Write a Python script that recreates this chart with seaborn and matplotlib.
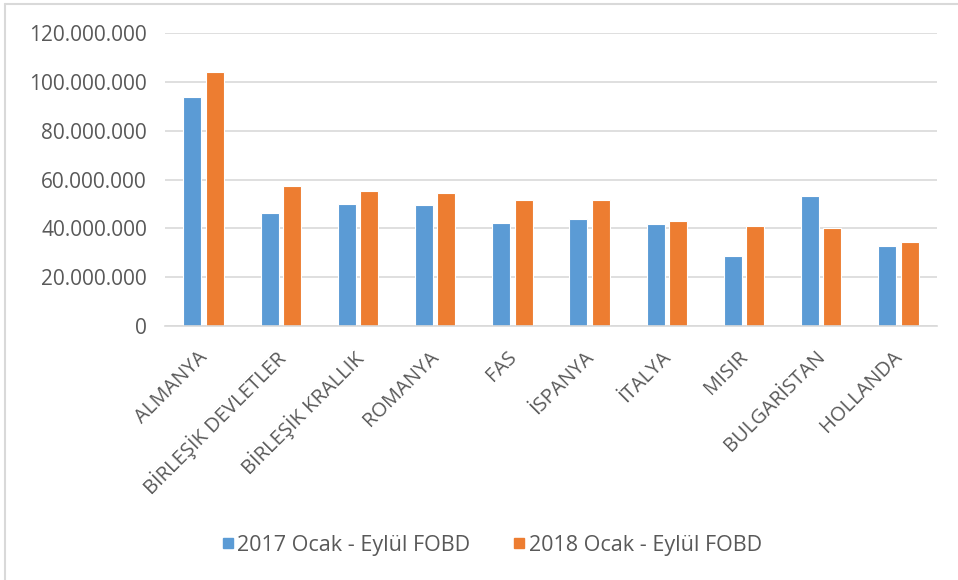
import matplotlib
matplotlib.use("Agg")
import matplotlib.pyplot as plt
import seaborn as sns
import pandas as pd
from matplotlib.ticker import FuncFormatter
from matplotlib.lines import Line2D
from matplotlib.transforms import ScaledTranslation

countries = ["ALMANYA", "BİRLEŞİK DEVLETLER", "BİRLEŞİK KRALLIK", "ROMANYA", "FAS",
             "İSPANYA", "İTALYA", "MISIR", "BULGARİSTAN", "HOLLANDA"]
values_2017 = [93600000, 46400000, 50000000, 49600000, 42300000,
               43700000, 41600000, 28500000, 53200000, 32700000]
values_2018 = [104000000, 57400000, 55400000, 54300000, 51700000,
               51700000, 43100000, 41000000, 40100000, 34300000]
series = ["2017 Ocak - Eylül FOBD", "2018 Ocak - Eylül FOBD"]
colors = ["#5B9BD5", "#ED7D31"]

df = pd.DataFrame({
    "country": countries * 2,
    "value": values_2017 + values_2018,
    "series": [series[0]] * len(countries) + [series[1]] * len(countries),
})

sns.set_style("white")
plt.rcParams["font.family"] = ["Open Sans", "DejaVu Sans"]
text_color = "#595959"
grid_color = "#D9D9D9"

fig = plt.figure(figsize=(9.58, 5.8), dpi=100)
ax = fig.add_axes([165 / 958, 1 - 326 / 580, (937 - 165) / 958, (326 - 33) / 580])

sns.barplot(data=df, x="country", y="value", hue="series", palette=colors,
            width=0.58, gap=0.2, edgecolor="white", linewidth=0.8,
            saturation=1, ax=ax, legend=False)

ax.set_ylim(0, 120000000)
ax.set_yticks(range(0, 120000001, 20000000))
ax.yaxis.set_major_formatter(FuncFormatter(lambda v, p: f"{int(v):,}".replace(",", ".")))
ax.grid(axis="y", color=grid_color, linewidth=1.2)
ax.set_axisbelow(True)
for s in ["left", "right", "top"]:
    ax.spines[s].set_visible(False)
ax.spines["bottom"].set_color(grid_color)
ax.spines["bottom"].set_linewidth(1.2)
ax.set_xlabel("")
ax.set_ylabel("")
ax.tick_params(axis="both", length=0, colors=text_color)
ax.tick_params(axis="y", labelsize=15, pad=13)
ax.tick_params(axis="x", labelsize=14.5, pad=8)
shift = ScaledTranslation(-6 / 100, -10 / 100, fig.dpi_scale_trans)
for lbl in ax.get_xticklabels():
    lbl.set_rotation(45)
    lbl.set_ha("right")
    lbl.set_rotation_mode("anchor")
    lbl.set_transform(lbl.get_transform() + shift)

handles = [Line2D([0], [0], marker="s", linestyle="none", markersize=7.5,
                  markerfacecolor=c, markeredgecolor=c) for c in colors]
leg = fig.legend(handles, series, loc="center", bbox_to_anchor=(492 / 958, 1 - 545 / 580),
                 ncol=2, frameon=False, fontsize=15.5, handletextpad=0.2,
                 columnspacing=2.0, handlelength=0.5)
for t in leg.get_texts():
    t.set_color(text_color)

fig.add_artist(Line2D([5 / 958, 1], [1 - 4 / 580, 1 - 4 / 580], transform=fig.transFigure,
                      color=grid_color, linewidth=1.5))
fig.add_artist(Line2D([5 / 958, 5 / 958], [0, 1 - 4 / 580], transform=fig.transFigure,
                      color=grid_color, linewidth=1.5))

fig.savefig("out.png", dpi=100)
